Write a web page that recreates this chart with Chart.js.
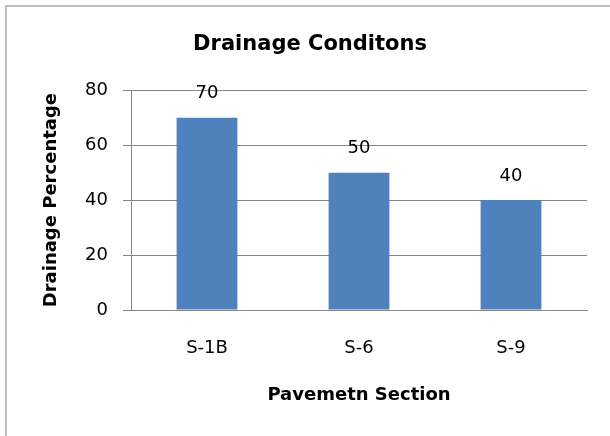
<!DOCTYPE html>
<html>
<head>
<meta charset="utf-8">
<script src="https://cdn.jsdelivr.net/npm/chart.js@4"></script>
<style>
  html, body { margin: 0; padding: 0; background: #fff; }
  #wrap { width: 610px; height: 436px; }
</style>
</head>
<body>
<div id="wrap"><canvas id="bar-chart" width="610" height="436"></canvas></div>
<script>
const sezioni = ["S-1B", "S-6", "S-9"],
  drenaggio = [70, 50, 40],
  yMin = 0,
  yMax = 80,
  yStep = 20,
  fontFam = "'DejaVu Sans', sans-serif",
  grigio = "#868686";

// bordo dell'area grafico (solo sinistra e sopra, come nell'originale)
const bordo = {
  id: "bordo",
  afterLayout(chart) {
    // titolo centrato su tutta la larghezza, non solo sull'area del grafico
    chart.titleBlock.left = 0;
    chart.titleBlock.right = 620;
  },
  afterDraw(chart) {
    const c = chart.ctx;
    c.save();
    c.strokeStyle = "#bdbdbd";
    c.lineWidth = 2;
    c.beginPath();
    c.moveTo(6, 436);
    c.lineTo(6, 6);
    c.lineTo(610, 6);
    c.stroke();
    c.restore();
  },
};

// etichette dei valori sopra le barre
const etichette = {
  id: "etichette",
  afterDatasetsDraw(chart) {
    const c = chart.ctx;
    c.save();
    c.font = "18px " + fontFam;
    c.fillStyle = "#000";
    c.textAlign = "center";
    c.textBaseline = "middle";
    chart.getDatasetMeta(0).data.forEach((bar, i) => {
      c.fillText(drenaggio[i], bar.x, bar.y - 24);
    });
    c.restore();
  },
};

const config = {
  type: "bar",
  data: {
    labels: sezioni,
    datasets: [
      {
        data: drenaggio,
        backgroundColor: "#4F81BD",
        barPercentage: 0.4,
        categoryPercentage: 1,
      },
    ],
  },
  options: {
    responsive: false,
    animation: false,
    layout: { padding: { left: 0, right: 23, top: 0, bottom: 0 } },
    plugins: {
      legend: { display: false },
      tooltip: { enabled: false },
      title: {
        display: true,
        text: "Drainage Conditons",
        color: "#000",
        font: { family: fontFam, size: 21, weight: "bold" },
        padding: { top: 32, bottom: 33 },
      },
    },
    scales: {
      x: {
        grid: { display: false, drawTicks: false },
        border: { display: true, color: grigio, width: 1 },
        ticks: { color: "#000", padding: 28, font: { family: fontFam, size: 18 } },
        title: {
          display: true,
          text: "Pavemetn Section",
          color: "#000",
          font: { family: fontFam, size: 18, weight: "bold" },
          padding: { top: 0, bottom: 30 },
        },
        afterFit(scale) {
          scale.height = 126;
        },
      },
      y: {
        min: yMin,
        max: yMax,
        ticks: {
          stepSize: yStep,
          color: "#000",
          padding: 15,
          font: { family: fontFam, size: 18 },
        },
        grid: { color: grigio, tickLength: 8, tickColor: grigio },
        border: { display: true, color: grigio, width: 1 },
        title: {
          display: true,
          text: "Drainage Percentage",
          color: "#000",
          font: { family: fontFam, size: 18, weight: "bold" },
          padding: { top: 41, bottom: 0 },
        },
        afterFit(scale) {
          scale.width = 131;
        },
      },
    },
  },
  plugins: [bordo, etichette],
};

new Chart(document.getElementById("bar-chart").getContext("2d"), config);
</script>
</body>
</html>
